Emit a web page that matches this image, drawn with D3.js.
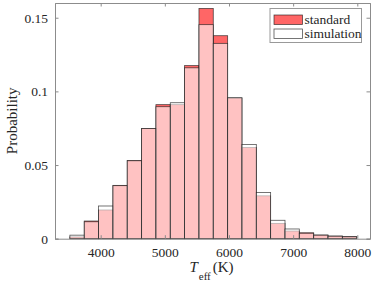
<!DOCTYPE html>
<html>
<head>
<meta charset="utf-8">
<script src="https://cdn.jsdelivr.net/npm/d3@7"></script>
<style>
	body { margin: 0; background: #fff; }
	svg { display: block; font-family: "Liberation Serif", "Times New Roman", serif; }
</style>
</head>
<body>
<div id="chart"></div>
<script>

////////////////////////////////////////////////////////////
///////////////////////// Data /////////////////////////////
////////////////////////////////////////////////////////////

//Bin edges of the Teff histogram (K)
var binEdges = [3520, 3744, 3967, 4191, 4414, 4638, 4861, 5085, 5308, 5532, 5755,
	5979, 6202, 6426, 6649, 6873, 7096, 7320, 7543, 7767, 7990];

//Probability per bin
var standardValues = [0.0012, 0.0120, 0.0195, 0.0362, 0.0531, 0.0748, 0.0910, 0.0910, 0.1175, 0.1563,
	0.1378, 0.0955, 0.0619, 0.0291, 0.0104, 0.0052, 0.0040, 0.0025, 0.0018, 0.0014];
var simulationValues = [0.0024, 0.0115, 0.0222, 0.0360, 0.0529, 0.0748, 0.0896, 0.0923, 0.1160, 0.1453,
	0.1326, 0.0957, 0.0640, 0.0314, 0.0125, 0.0066, 0.0037, 0.0024, 0.0017, 0.0013];

var seriesNames = ["standard", "simulation"];
var xTicks = [4000, 5000, 6000, 7000, 8000];
var yTicks = [0, 0.05, 0.1, 0.15];
var yTickLabels = ["0", "0.05", "0.1", "0.15"];

////////////////////////////////////////////////////////////
//////////////////////// Set-up ////////////////////////////
////////////////////////////////////////////////////////////

var totalWidth = 374,
	totalHeight = 287;
var margin = {top: 3, right: 4, bottom: 48.3, left: 55},
	width = totalWidth - margin.left - margin.right,
	height = totalHeight - margin.top - margin.bottom;

var axisColor = "#8c8c8c",
	textColor = "#262626",
	serif = "'Liberation Serif', 'Times New Roman', serif";

var svg = d3.select("#chart").append("svg")
	.attr("width", totalWidth)
	.attr("height", totalHeight)
	.attr("font-family", serif);

var g = svg.append("g")
	.attr("transform", "translate(" + margin.left + "," + margin.top + ")");

var x = d3.scaleLinear().domain([3288, 8198]).range([0, width]);
var y = d3.scaleLinear().domain([0, 0.16]).range([height, 0]);

function toBins(values) {
	return values.map(function(v, i) {
		return {x0: binEdges[i], x1: binEdges[i + 1], value: v};
	});
}

////////////////////////////////////////////////////////////
//////////////////////// Bars //////////////////////////////
////////////////////////////////////////////////////////////

var styles = [
	{fill: "#ff0000", opacity: 0.6},
	{fill: "#ffffff", opacity: 0.6}
];

[standardValues, simulationValues].forEach(function(values, s) {
	g.append("g")
		.attr("class", "bars-" + seriesNames[s])
		.selectAll("rect")
		.data(toBins(values))
		.enter().append("rect")
		.attr("x", function(d) { return x(d.x0); })
		.attr("width", function(d) { return x(d.x1) - x(d.x0); })
		.attr("y", function(d) { return y(d.value); })
		.attr("height", function(d) { return y(0) - y(d.value); })
		.style("fill", styles[s].fill)
		.style("fill-opacity", styles[s].opacity)
		.style("stroke", "#1a1a1a")
		.style("stroke-opacity", 0.75)
		.style("stroke-width", 0.8);
});

////////////////////////////////////////////////////////////
//////////////////////// Axes //////////////////////////////
////////////////////////////////////////////////////////////

var tickLen = 3.5;

var xAxisBottom = d3.axisBottom(x).tickValues(xTicks).tickSize(-tickLen).tickPadding(8.5)
	.tickFormat(d3.format("d"));
var xAxisTop = d3.axisTop(x).tickValues(xTicks).tickSize(-tickLen).tickFormat("");
var yAxisLeft = d3.axisLeft(y).tickValues(yTicks).tickSize(-tickLen).tickPadding(7)
	.tickFormat(function(d, i) { return yTickLabels[i]; });
var yAxisRight = d3.axisRight(y).tickValues(yTicks).tickSize(-tickLen).tickFormat("");

var axes = [
	g.append("g").attr("transform", "translate(0," + height + ")").call(xAxisBottom),
	g.append("g").call(xAxisTop),
	g.append("g").call(yAxisLeft),
	g.append("g").attr("transform", "translate(" + width + ",0)").call(yAxisRight)
];

axes.forEach(function(a) {
	a.attr("font-family", serif).attr("font-size", 13.5);
	a.select(".domain").style("stroke", axisColor).style("stroke-width", 1);
	a.selectAll(".tick line").style("stroke", axisColor);
	a.selectAll(".tick text").style("fill", textColor);
});

//Axis titles
svg.append("text")
	.attr("transform", "translate(17," + (margin.top + height / 2) + ") rotate(-90)")
	.attr("text-anchor", "middle")
	.attr("font-size", 15)
	.style("fill", textColor)
	.text("Probability");

var xTitle = svg.append("text")
	.attr("x", margin.left + width / 2 - 1)
	.attr("y", 272)
	.attr("text-anchor", "middle")
	.attr("font-size", 15)
	.style("fill", textColor);
xTitle.append("tspan").style("font-style", "italic").text("T");
xTitle.append("tspan").attr("dy", 7.5).attr("dx", 1).attr("font-size", 11).text("eff");
xTitle.append("tspan").attr("dy", -7.5).attr("dx", 2).text("(K)");

////////////////////////////////////////////////////////////
//////////////////////// Legend ////////////////////////////
////////////////////////////////////////////////////////////

var legend = svg.append("g")
	.attr("transform", "translate(270,8.5)");

legend.append("rect")
	.attr("width", 91.5)
	.attr("height", 34)
	.style("fill", "#fff")
	.style("stroke", "#999")
	.style("stroke-width", 1);

var legendItems = legend.selectAll(".legend-item")
	.data(seriesNames)
	.enter().append("g")
	.attr("class", "legend-item")
	.attr("transform", function(d, i) { return "translate(4," + (6.5 + i * 14) + ")"; });

legendItems.append("rect")
	.attr("width", 28.5)
	.attr("height", 9.5)
	.style("fill", function(d, i) { return styles[i].fill; })
	.style("fill-opacity", function(d, i) { return styles[i].opacity; })
	.style("stroke", "#1a1a1a")
	.style("stroke-opacity", 0.75)
	.style("stroke-width", 0.8);

legendItems.append("text")
	.attr("x", 30.5)
	.attr("y", 8.8)
	.attr("font-size", 13.5)
	.style("fill", textColor)
	.text(function(d) { return d; });

</script>
</body>
</html>
